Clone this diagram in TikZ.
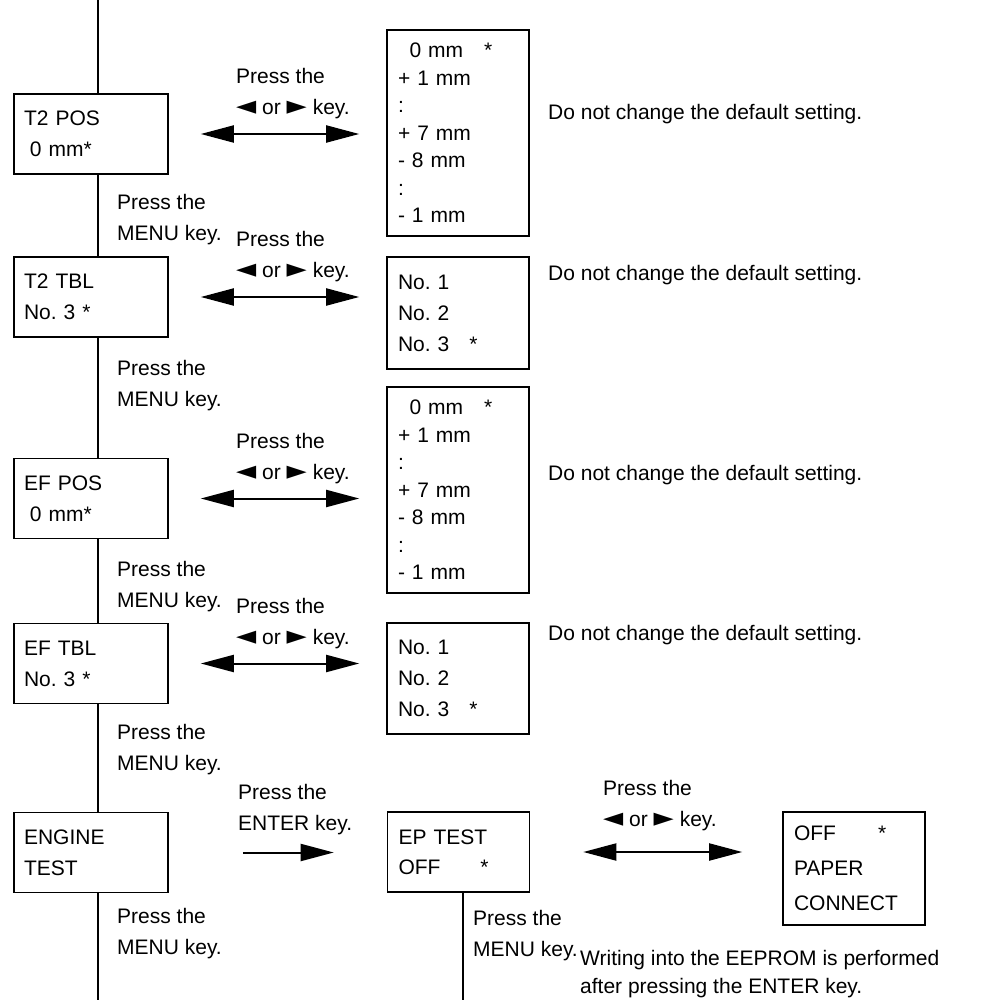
\documentclass[tikz,border=0pt]{standalone}
\usepackage{fontspec}
\setmainfont{Liberation Sans}
\newfontfamily\pointerfont{DejaVu Sans}
\usepackage{tikz}
\usetikzlibrary{arrows.meta,positioning,calc}
\newcommand{\lkey}{\scalebox{1.25}{\pointerfont ◄}}
\newcommand{\rkey}{\scalebox{1.25}{\pointerfont ►}}
\tikzset{
  menubox/.style={draw,line width=1.6pt,fill=white,align=left,inner sep=0pt,minimum width=154pt,minimum height=80pt,text width=134pt},
  valbox/.style={menubox,minimum width=142pt,text width=120pt},
  keylabel/.style={align=left,inner sep=0pt,anchor=west},
  menuline/.style={line width=1.6pt},
  keyarrow/.style={-{Triangle[length=33pt,width=17pt]},line width=2pt},
  dblarrow/.style={{Triangle[length=33pt,width=17pt]}-{Triangle[length=33pt,width=17pt]},line width=2pt}
}
\frenchspacing

\begin{document}
\begin{tikzpicture}[x=1pt,y=-1pt,font=\fontsize{21}{31}\selectfont]
\useasboundingbox (0,0) rectangle (1001,1000);
\coordinate (top) at (98,0);
\coordinate (bottom) at (98,1000);
\coordinate (epend) at (463,1000);
\node[menubox] (t2pos) at (91,134) {T2 POS\\\hspace*{.28em}0 mm*};
\node[menubox] (t2tbl) at (91,297) {T2 TBL\\No. 3 *};
\node[menubox] (efpos) at (91,498.5) {EF POS\\\hspace*{.28em}0 mm*};
\node[menubox] (eftbl) at (91,663.5) {EF TBL\\No. 3 *};
\node[menubox] (engine) at (91,852.5) {ENGINE\\TEST};
\node[valbox,minimum height=206pt,font=\fontsize{21}{27.5}\selectfont] (t2posval) at (458,133)
  {\hspace*{.55em}0 mm\hspace{1em}*\\+ 1 mm\\:\\+ 7 mm\\- 8 mm\\:\\- 1 mm};
\node[valbox,minimum height=112pt] (t2tblval) at (458,313) {No. 1\\No. 2\\No. 3\hspace{.95em}*};
\node[valbox,minimum height=206pt,font=\fontsize{21}{27.5}\selectfont] (efposval) at (458,490)
  {\hspace*{.55em}0 mm\hspace{1em}*\\+ 1 mm\\:\\+ 7 mm\\- 8 mm\\:\\- 1 mm};
\node[valbox,minimum height=111pt] (eftblval) at (458,678.5) {No. 1\\No. 2\\No. 3\hspace{.95em}*};
\node[valbox,font=\fontsize{21}{30}\selectfont] (eptest) at (458.5,852) {EP TEST\\OFF\hspace{1.9em}*};
\node[valbox,minimum height=113pt,font=\fontsize{21}{35}\selectfont] (epval) at (854,868.5) {OFF\hspace{2em}*\\PAPER\\CONNECT};
\node[keylabel] (keyA) at (236,94) {Press the\\\lkey\ or \rkey\ key.};
\node[keylabel] (keyB) at (236,257) {Press the\\\lkey\ or \rkey\ key.};
\node[keylabel] (keyC) at (236,458.5) {Press the\\\lkey\ or \rkey\ key.};
\node[keylabel] (keyD) at (236,623.5) {Press the\\\lkey\ or \rkey\ key.};
\node[keylabel] (enterkey) at (238,810) {Press the\\ENTER key.};
\node[keylabel] (keyE) at (603,806) {Press the\\\lkey\ or \rkey\ key.};
\node[keylabel] (menuA) at (117,219.5) {Press the\\MENU key.};
\node[keylabel] (menuB) at (117,385.5) {Press the\\MENU key.};
\node[keylabel] (menuC) at (117,587) {Press the\\MENU key.};
\node[keylabel] (menuD) at (117,749.5) {Press the\\MENU key.};
\node[keylabel] (menuE) at (117,934) {Press the\\MENU key.};
\node[keylabel] (menuF) at (473,935.5) {Press the\\MENU key.};
\node[keylabel] (noteA) at (548,114) {Do not change the default setting.};
\node[keylabel] (noteB) at (548,275) {Do not change the default setting.};
\node[keylabel] (noteC) at (548,475) {Do not change the default setting.};
\node[keylabel] (noteD) at (548,635) {Do not change the default setting.};
\node[keylabel,font=\fontsize{21}{28}\selectfont] (eeprom) at (580,974)
  {Writing into the EEPROM is performed\\after pressing the ENTER key.};
\draw[menuline] (top) -- (t2pos.north -| top);
\draw[menuline] (t2pos.south -| top) -- (t2tbl.north -| top);
\draw[menuline] (t2tbl.south -| top) -- (efpos.north -| top);
\draw[menuline] (efpos.south -| top) -- (eftbl.north -| top);
\draw[menuline] (eftbl.south -| top) -- (engine.north -| top);
\draw[menuline] (engine.south -| top) -- (bottom);
\draw[menuline] (eptest.south -| epend) -- (epend);
\draw[dblarrow,shorten <=32pt,shorten >=27pt] (t2pos.east) -- (t2pos.east -| t2posval.west);
\draw[dblarrow,shorten <=32pt,shorten >=27pt] (t2tbl.east) -- (t2tbl.east -| t2tblval.west);
\draw[dblarrow,shorten <=32pt,shorten >=27pt] (efpos.east) -- (efpos.east -| efposval.west);
\draw[dblarrow,shorten <=32pt,shorten >=27pt] (eftbl.east) -- (eftbl.east -| eftblval.west);
\draw[keyarrow,shorten <=74pt,shorten >=53pt] (engine.east) -- (engine.east -| eptest.west);
\draw[dblarrow,shorten <=53pt,shorten >=40pt] (eptest.east) -- (eptest.east -| epval.west);
\end{tikzpicture}
\end{document}
